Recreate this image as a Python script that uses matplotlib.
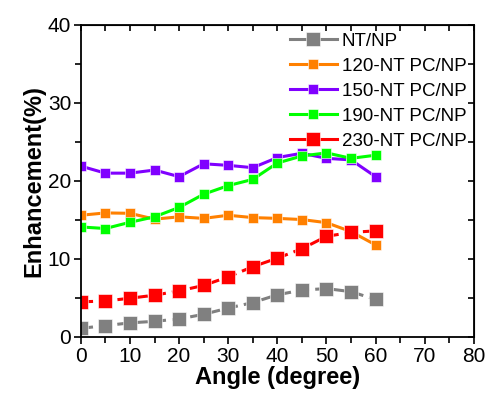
import matplotlib
matplotlib.use("Agg")
import matplotlib.pyplot as plt
from matplotlib.ticker import MultipleLocator

plt.rcParams['font.family'] = ['Liberation Sans', 'DejaVu Sans']

# data
angle = [0, 5, 10, 15, 20, 25, 30, 35, 40, 45, 50, 55, 60]
nt_np = [1.1, 1.45, 1.8, 2.0, 2.3, 2.9, 3.7, 4.4, 5.4, 6.0, 6.2, 5.8, 4.8]
nt120 = [15.6, 15.9, 15.85, 15.1, 15.4, 15.2, 15.6, 15.3, 15.2, 15.05, 14.65, 13.5, 11.8]
nt150 = [21.9, 21.0, 21.0, 21.4, 20.55, 22.2, 22.0, 21.7, 23.0, 23.55, 22.9, 22.7, 20.55]
nt190 = [14.1, 13.9, 14.7, 15.4, 16.6, 18.3, 19.4, 20.2, 22.3, 23.2, 23.6, 22.9, 23.3]
nt230 = [4.5, 4.6, 4.96, 5.35, 5.9, 6.6, 7.7, 9.0, 10.1, 11.3, 12.9, 13.4, 13.6]

labels = ['NT/NP', '120-NT PC/NP', '150-NT PC/NP', '190-NT PC/NP', '230-NT PC/NP']
colors = ['#808080', '#ff8000', '#8000ff', '#00ff00', '#ff0000']
series = [nt_np, nt120, nt150, nt190, nt230]
styles = ['--', '-', '-', '-', '--']
msizes = [9.5, 6.5, 6.5, 6.5, 9.5]

fig = plt.figure(figsize=(4.9, 4.03), dpi=100)
ax = fig.add_axes([0.165, 0.164, 0.802, 0.774])

for s, c, ls, ms, lab in zip(series, colors, styles, msizes, labels):
    ax.plot(angle, s, linestyle=ls, color=c, lw=2.2, marker='s', ms=ms,
            mfc=c, mec='white', mew=0.4, label=lab,
            dashes=(4, 2) if ls == '--' else (None, None))

ax.set_xlim(0, 80)
ax.set_ylim(0, 40)
ax.xaxis.set_major_locator(MultipleLocator(10))
ax.xaxis.set_minor_locator(MultipleLocator(5))
ax.yaxis.set_major_locator(MultipleLocator(10))
ax.yaxis.set_minor_locator(MultipleLocator(5))
ax.tick_params(which='both', direction='out', top=False, right=False, width=1.2, labelsize=15)
ax.tick_params(which='major', length=5, pad=2)
ax.tick_params(which='minor', length=4)
for sp in ax.spines.values():
    sp.set_linewidth(1.3)

# inward ticks on top/right
ax2 = ax.secondary_xaxis('top')
ax2.xaxis.set_major_locator(MultipleLocator(5))
ax2.tick_params(direction='in', length=4, width=1.2, labeltop=False)
ax3 = ax.secondary_yaxis('right')
ax3.yaxis.set_major_locator(MultipleLocator(5))
ax3.tick_params(direction='in', length=4, width=1.2, labelright=False)

ax.set_xlabel('Angle (degree)', fontsize=17, fontweight='bold', labelpad=0)
ax.set_ylabel('Enhancement(%)', fontsize=17, fontweight='bold', labelpad=2)

leg = ax.legend(loc='upper right', frameon=False, fontsize=13.5, handlelength=2.5,
                labelspacing=0.42, handletextpad=0.25, borderaxespad=0.0,
                bbox_to_anchor=(1.0, 1.0))
for h in leg.get_lines():
    h.set_linestyle('-')

fig.savefig('out.png', dpi=100)
